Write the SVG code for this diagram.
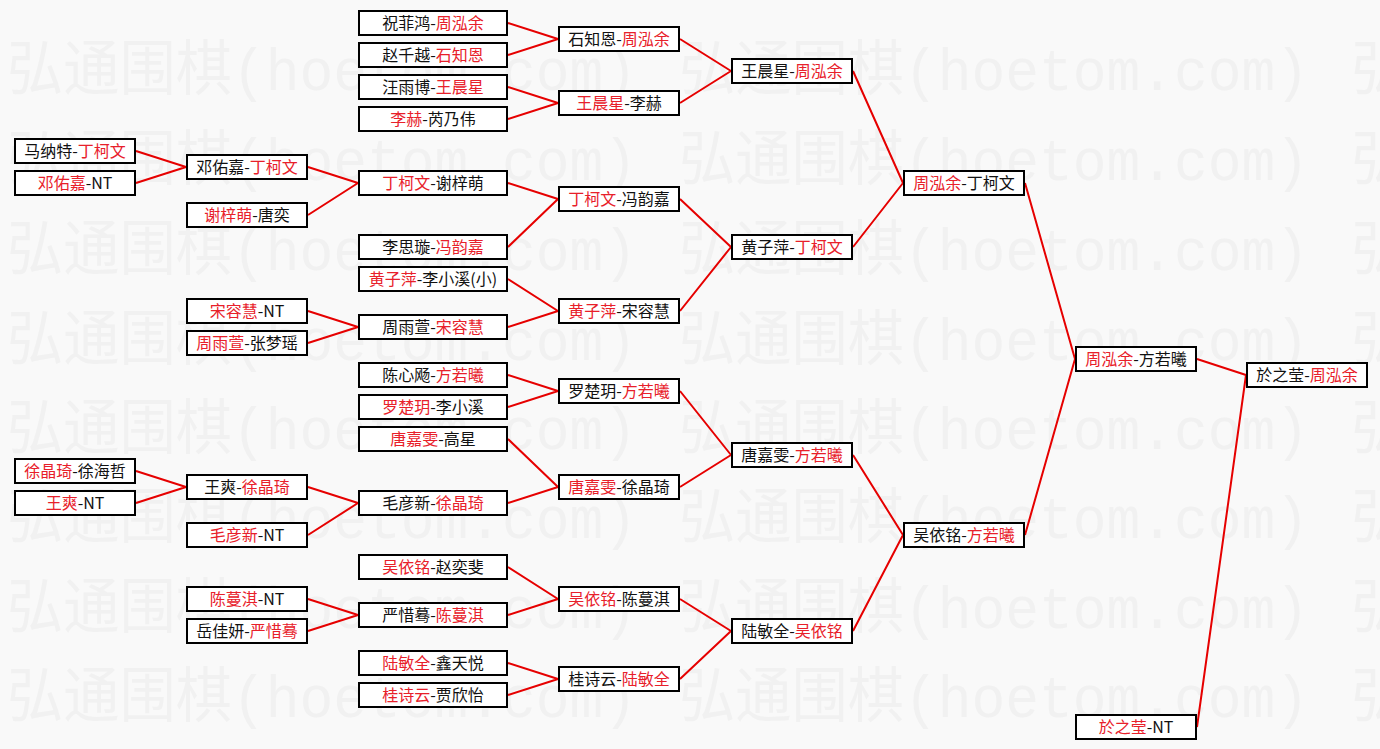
<svg xmlns="http://www.w3.org/2000/svg" width="1380" height="749" viewBox="0 0 1380 749">
<style>
.bx{fill:#fff;stroke:#000;stroke-width:2}
.t{font-family:"Noto Sans CJK SC","Noto Sans",sans-serif;font-size:16px;fill:#111;text-anchor:middle}
.r{fill:#e8202a}
.cn path{stroke:#e60000;stroke-width:2;fill:none}
.wm{font-family:"Liberation Mono","Noto Sans CJK SC",monospace;font-size:60px;fill:#f1f1f1}
</style>
<rect x="0" y="0" width="1380" height="749" fill="#f9f9f9"/>
<g id="watermark">
<text class="wm" x="7" y="90" textLength="630" lengthAdjust="spacingAndGlyphs">弘通围棋(hoetom.com)</text>
<text class="wm" x="679" y="90" textLength="630" lengthAdjust="spacingAndGlyphs">弘通围棋(hoetom.com)</text>
<text class="wm" x="1351" y="90">弘</text>
<text class="wm" x="7" y="180" textLength="630" lengthAdjust="spacingAndGlyphs">弘通围棋(hoetom.com)</text>
<text class="wm" x="679" y="180" textLength="630" lengthAdjust="spacingAndGlyphs">弘通围棋(hoetom.com)</text>
<text class="wm" x="1351" y="180">弘</text>
<text class="wm" x="7" y="270" textLength="630" lengthAdjust="spacingAndGlyphs">弘通围棋(hoetom.com)</text>
<text class="wm" x="679" y="270" textLength="630" lengthAdjust="spacingAndGlyphs">弘通围棋(hoetom.com)</text>
<text class="wm" x="1351" y="270">弘</text>
<text class="wm" x="7" y="360" textLength="630" lengthAdjust="spacingAndGlyphs">弘通围棋(hoetom.com)</text>
<text class="wm" x="679" y="360" textLength="630" lengthAdjust="spacingAndGlyphs">弘通围棋(hoetom.com)</text>
<text class="wm" x="1351" y="360">弘</text>
<text class="wm" x="7" y="449" textLength="630" lengthAdjust="spacingAndGlyphs">弘通围棋(hoetom.com)</text>
<text class="wm" x="679" y="449" textLength="630" lengthAdjust="spacingAndGlyphs">弘通围棋(hoetom.com)</text>
<text class="wm" x="1351" y="449">弘</text>
<text class="wm" x="7" y="538" textLength="630" lengthAdjust="spacingAndGlyphs">弘通围棋(hoetom.com)</text>
<text class="wm" x="679" y="538" textLength="630" lengthAdjust="spacingAndGlyphs">弘通围棋(hoetom.com)</text>
<text class="wm" x="1351" y="538">弘</text>
<text class="wm" x="7" y="628" textLength="630" lengthAdjust="spacingAndGlyphs">弘通围棋(hoetom.com)</text>
<text class="wm" x="679" y="628" textLength="630" lengthAdjust="spacingAndGlyphs">弘通围棋(hoetom.com)</text>
<text class="wm" x="1351" y="628">弘</text>
<text class="wm" x="7" y="717" textLength="630" lengthAdjust="spacingAndGlyphs">弘通围棋(hoetom.com)</text>
<text class="wm" x="679" y="717" textLength="630" lengthAdjust="spacingAndGlyphs">弘通围棋(hoetom.com)</text>
<text class="wm" x="1351" y="717">弘</text>
</g>
<g id="connectors" class="cn">
<path d="M136 151L186 167M136 183L186 167M136 471L186 487M136 503L186 487"/>
<path d="M308 167L358 183M308 215L358 183M308 311L358 327M308 343L358 327M308 487L358 503M308 535L358 503M308 599L358 615M308 631L358 615"/>
<path d="M508 23L558 39M508 55L558 39M508 87L558 103M508 119L558 103M508 183L558 199M508 247L558 199M508 279L558 311M508 327L558 311M508 375L558 391M508 407L558 391M508 439L558 487M508 503L558 487M508 567L558 599M508 615L558 599M508 663L558 679M508 695L558 679"/>
<path d="M680 39L731 71M680 103L731 71M680 199L731 247M680 311L731 247M680 391L731 455M680 487L731 455M680 599L731 631M680 679L731 631"/>
<path d="M853 71L903 183M853 247L903 183M853 455L903 535M853 631L903 535"/>
<path d="M1025 183L1075 359M1025 535L1075 359"/>
<path d="M1197 359L1246 375M1197 727L1246 375"/>
</g>
<g id="r1-1"><rect class="bx" x="15" y="139" width="120" height="24"/><text class="t" x="75" y="156.5">马纳特-<tspan class="r">丁柯文</tspan></text></g>
<g id="r1-2"><rect class="bx" x="15" y="171" width="120" height="24"/><text class="t" x="75" y="188.5"><tspan class="r">邓佑嘉</tspan>-NT</text></g>
<g id="r1-3"><rect class="bx" x="15" y="459" width="120" height="24"/><text class="t" x="75" y="476.5"><tspan class="r">徐晶琦</tspan>-徐海哲</text></g>
<g id="r1-4"><rect class="bx" x="15" y="491" width="120" height="24"/><text class="t" x="75" y="508.5"><tspan class="r">王爽</tspan>-NT</text></g>
<g id="r2-1"><rect class="bx" x="187" y="155" width="120" height="24"/><text class="t" x="247" y="172.5">邓佑嘉-<tspan class="r">丁柯文</tspan></text></g>
<g id="r2-2"><rect class="bx" x="187" y="203" width="120" height="24"/><text class="t" x="247" y="220.5"><tspan class="r">谢梓萌</tspan>-唐奕</text></g>
<g id="r2-3"><rect class="bx" x="187" y="299" width="120" height="24"/><text class="t" x="247" y="316.5"><tspan class="r">宋容慧</tspan>-NT</text></g>
<g id="r2-4"><rect class="bx" x="187" y="331" width="120" height="24"/><text class="t" x="247" y="348.5"><tspan class="r">周雨萱</tspan>-张梦瑶</text></g>
<g id="r2-5"><rect class="bx" x="187" y="475" width="120" height="24"/><text class="t" x="247" y="492.5">王爽-<tspan class="r">徐晶琦</tspan></text></g>
<g id="r2-6"><rect class="bx" x="187" y="523" width="120" height="24"/><text class="t" x="247" y="540.5"><tspan class="r">毛彦新</tspan>-NT</text></g>
<g id="r2-7"><rect class="bx" x="187" y="587" width="120" height="24"/><text class="t" x="247" y="604.5"><tspan class="r">陈蔓淇</tspan>-NT</text></g>
<g id="r2-8"><rect class="bx" x="187" y="619" width="120" height="24"/><text class="t" x="247" y="636.5">岳佳妍-<tspan class="r">严惜蓦</tspan></text></g>
<g id="r3-1"><rect class="bx" x="359" y="11" width="148" height="24"/><text class="t" x="433" y="28.5">祝菲鸿-<tspan class="r">周泓余</tspan></text></g>
<g id="r3-2"><rect class="bx" x="359" y="43" width="148" height="24"/><text class="t" x="433" y="60.5">赵千越-<tspan class="r">石知恩</tspan></text></g>
<g id="r3-3"><rect class="bx" x="359" y="75" width="148" height="24"/><text class="t" x="433" y="92.5">汪雨博-<tspan class="r">王晨星</tspan></text></g>
<g id="r3-4"><rect class="bx" x="359" y="107" width="148" height="24"/><text class="t" x="433" y="124.5"><tspan class="r">李赫</tspan>-芮乃伟</text></g>
<g id="r3-5"><rect class="bx" x="359" y="171" width="148" height="24"/><text class="t" x="433" y="188.5"><tspan class="r">丁柯文</tspan>-谢梓萌</text></g>
<g id="r3-6"><rect class="bx" x="359" y="235" width="148" height="24"/><text class="t" x="433" y="252.5">李思璇-<tspan class="r">冯韵嘉</tspan></text></g>
<g id="r3-7"><rect class="bx" x="359" y="267" width="148" height="24"/><text class="t" x="433" y="284.5"><tspan class="r">黄子萍</tspan>-李小溪(小)</text></g>
<g id="r3-8"><rect class="bx" x="359" y="315" width="148" height="24"/><text class="t" x="433" y="332.5">周雨萱-<tspan class="r">宋容慧</tspan></text></g>
<g id="r3-9"><rect class="bx" x="359" y="363" width="148" height="24"/><text class="t" x="433" y="380.5">陈心飏-<tspan class="r">方若曦</tspan></text></g>
<g id="r3-10"><rect class="bx" x="359" y="395" width="148" height="24"/><text class="t" x="433" y="412.5"><tspan class="r">罗楚玥</tspan>-李小溪</text></g>
<g id="r3-11"><rect class="bx" x="359" y="427" width="148" height="24"/><text class="t" x="433" y="444.5"><tspan class="r">唐嘉雯</tspan>-高星</text></g>
<g id="r3-12"><rect class="bx" x="359" y="491" width="148" height="24"/><text class="t" x="433" y="508.5">毛彦新-<tspan class="r">徐晶琦</tspan></text></g>
<g id="r3-13"><rect class="bx" x="359" y="555" width="148" height="24"/><text class="t" x="433" y="572.5"><tspan class="r">吴依铭</tspan>-赵奕斐</text></g>
<g id="r3-14"><rect class="bx" x="359" y="603" width="148" height="24"/><text class="t" x="433" y="620.5">严惜蓦-<tspan class="r">陈蔓淇</tspan></text></g>
<g id="r3-15"><rect class="bx" x="359" y="651" width="148" height="24"/><text class="t" x="433" y="668.5"><tspan class="r">陆敏全</tspan>-鑫天悦</text></g>
<g id="r3-16"><rect class="bx" x="359" y="683" width="148" height="24"/><text class="t" x="433" y="700.5"><tspan class="r">桂诗云</tspan>-贾欣怡</text></g>
<g id="r4-1"><rect class="bx" x="559" y="27" width="120" height="24"/><text class="t" x="619" y="44.5">石知恩-<tspan class="r">周泓余</tspan></text></g>
<g id="r4-2"><rect class="bx" x="559" y="91" width="120" height="24"/><text class="t" x="619" y="108.5"><tspan class="r">王晨星</tspan>-李赫</text></g>
<g id="r4-3"><rect class="bx" x="559" y="187" width="120" height="24"/><text class="t" x="619" y="204.5"><tspan class="r">丁柯文</tspan>-冯韵嘉</text></g>
<g id="r4-4"><rect class="bx" x="559" y="299" width="120" height="24"/><text class="t" x="619" y="316.5"><tspan class="r">黄子萍</tspan>-宋容慧</text></g>
<g id="r4-5"><rect class="bx" x="559" y="379" width="120" height="24"/><text class="t" x="619" y="396.5">罗楚玥-<tspan class="r">方若曦</tspan></text></g>
<g id="r4-6"><rect class="bx" x="559" y="475" width="120" height="24"/><text class="t" x="619" y="492.5"><tspan class="r">唐嘉雯</tspan>-徐晶琦</text></g>
<g id="r4-7"><rect class="bx" x="559" y="587" width="120" height="24"/><text class="t" x="619" y="604.5"><tspan class="r">吴依铭</tspan>-陈蔓淇</text></g>
<g id="r4-8"><rect class="bx" x="559" y="667" width="120" height="24"/><text class="t" x="619" y="684.5">桂诗云-<tspan class="r">陆敏全</tspan></text></g>
<g id="r5-1"><rect class="bx" x="732" y="59" width="120" height="24"/><text class="t" x="792" y="76.5">王晨星-<tspan class="r">周泓余</tspan></text></g>
<g id="r5-2"><rect class="bx" x="732" y="235" width="120" height="24"/><text class="t" x="792" y="252.5">黄子萍-<tspan class="r">丁柯文</tspan></text></g>
<g id="r5-3"><rect class="bx" x="732" y="443" width="120" height="24"/><text class="t" x="792" y="460.5">唐嘉雯-<tspan class="r">方若曦</tspan></text></g>
<g id="r5-4"><rect class="bx" x="732" y="619" width="120" height="24"/><text class="t" x="792" y="636.5">陆敏全-<tspan class="r">吴依铭</tspan></text></g>
<g id="r6-1"><rect class="bx" x="904" y="171" width="120" height="24"/><text class="t" x="964" y="188.5"><tspan class="r">周泓余</tspan>-丁柯文</text></g>
<g id="r6-2"><rect class="bx" x="904" y="523" width="120" height="24"/><text class="t" x="964" y="540.5">吴依铭-<tspan class="r">方若曦</tspan></text></g>
<g id="r7-1"><rect class="bx" x="1076" y="347" width="120" height="24"/><text class="t" x="1136" y="364.5"><tspan class="r">周泓余</tspan>-方若曦</text></g>
<g id="r7-2"><rect class="bx" x="1076" y="715" width="120" height="24"/><text class="t" x="1136" y="732.5"><tspan class="r">於之莹</tspan>-NT</text></g>
<g id="final"><rect class="bx" x="1247" y="363" width="120" height="24"/><text class="t" x="1307" y="380.5">於之莹-<tspan class="r">周泓余</tspan></text></g>
</svg>
